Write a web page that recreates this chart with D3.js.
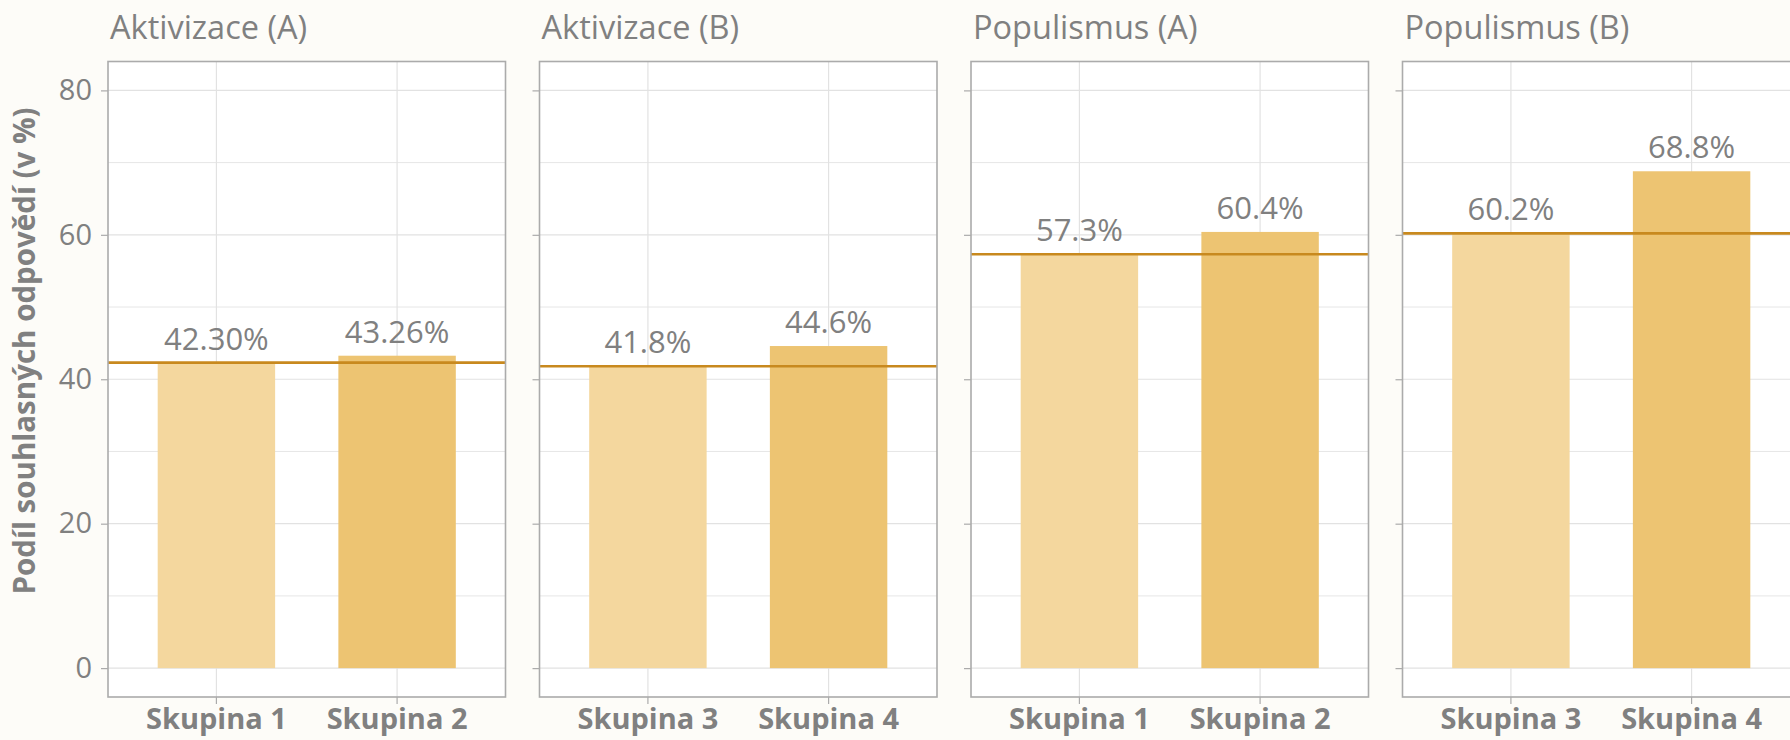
<!DOCTYPE html>
<meta charset="utf-8">
<head>
    <style>
     body { margin: 0; background: #fdfcf8; }
     svg { display: block; }
     text { font-family: "Open Sans", "Noto Sans", sans-serif; fill: #808080; }
    </style>
</head>
<body>
</body>
<script src="https://d3js.org/d3.v7.min.js"></script>
<script>
 // data
 const panelTitles = ["Aktivizace (A)", "Aktivizace (B)", "Populismus (A)", "Populismus (B)"];
 const groupNames = [["Skupina 1", "Skupina 2"], ["Skupina 3", "Skupina 4"],
                     ["Skupina 1", "Skupina 2"], ["Skupina 3", "Skupina 4"]];
 const shares = [[42.30, 43.26], [41.8, 44.6], [57.3, 60.4], [60.2, 68.8]];
 const shareLabels = [["42.30%", "43.26%"], ["41.8%", "44.6%"], ["57.3%", "60.4%"], ["60.2%", "68.8%"]];
 const baselines = [42.30, 41.8, 57.3, 60.2];
 const yTicks = [0, 20, 40, 60, 80];
 const yMinor = [10, 30, 50, 70];
 const barColors = ["#f4d79e", "#edc472"];

 var width = 1790,
     height = 740;

 var left = 108, panelW = 397.5, gap = 34,
     panelTop = 61.5, panelBottom = 697;

 var svg = d3.select("body").append("svg")
             .attr("width", width)
             .attr("height", height);

 svg.append("rect").attr("width", width).attr("height", height).attr("fill", "#fdfcf8");

 // ggplot style limits 0..80 with 5% expansion
 var y = d3.scaleLinear().domain([-4, 84]).range([panelBottom, panelTop]);

 panelTitles.forEach(function(title, i) {
     var x0 = left + i * (panelW + gap);
     var g = svg.append("g").attr("transform", `translate(${x0},0)`);

     var x = d3.scaleBand()
               .domain(groupNames[i])
               .range([0, panelW])
               .paddingInner(0)
               .paddingOuter(0.1);
     var barW = x.step() * 0.65;

     g.append("rect")
      .attr("x", 0).attr("y", panelTop)
      .attr("width", panelW).attr("height", panelBottom - panelTop)
      .attr("fill", "#fff");

     // grid
     g.selectAll("line.minor")
      .data(yMinor)
      .join("line")
      .attr("class", "minor")
      .attr("x1", 0).attr("x2", panelW)
      .attr("y1", d => y(d)).attr("y2", d => y(d))
      .attr("stroke", "#e6e6e6").attr("stroke-width", 1);
     g.selectAll("line.major")
      .data(yTicks)
      .join("line")
      .attr("class", "major")
      .attr("x1", 0).attr("x2", panelW)
      .attr("y1", d => y(d)).attr("y2", d => y(d))
      .attr("stroke", "#e2e2e2").attr("stroke-width", 1.2);
     g.selectAll("line.vgrid")
      .data(groupNames[i])
      .join("line")
      .attr("class", "vgrid")
      .attr("x1", d => x(d) + x.bandwidth() / 2).attr("x2", d => x(d) + x.bandwidth() / 2)
      .attr("y1", panelTop).attr("y2", panelBottom)
      .attr("stroke", "#e2e2e2").attr("stroke-width", 1.2);

     // bars
     g.selectAll("rect.bar")
      .data(shares[i])
      .join("rect")
      .attr("class", "bar")
      .attr("x", (d, j) => x(groupNames[i][j]) + (x.bandwidth() - barW) / 2)
      .attr("width", barW)
      .attr("y", d => y(d))
      .attr("height", d => y(0) - y(d))
      .attr("fill", (d, j) => barColors[j]);

     // reference line at first group's share
     g.append("line")
      .attr("x1", 0).attr("x2", panelW)
      .attr("y1", y(baselines[i])).attr("y2", y(baselines[i]))
      .attr("stroke", "#c8891e").attr("stroke-width", 2.6);

     // value labels
     g.selectAll("text.val")
      .data(shares[i])
      .join("text")
      .attr("class", "val")
      .attr("x", (d, j) => x(groupNames[i][j]) + x.bandwidth() / 2)
      .attr("y", d => y(d) - 13)
      .attr("text-anchor", "middle")
      .style("font-size", "31px")
      .text((d, j) => shareLabels[i][j]);

     // frame
     g.append("rect")
      .attr("x", 0).attr("y", panelTop)
      .attr("width", panelW).attr("height", panelBottom - panelTop)
      .attr("fill", "none")
      .attr("stroke", "#ababab").attr("stroke-width", 1.6);

     // y ticks (every panel), labels only in the first
     var yAxis = g.append("g")
                  .call(d3.axisLeft(y).tickValues(yTicks).tickSize(7).tickFormat(i === 0 ? d3.format("d") : ""));
     yAxis.select(".domain").remove();
     yAxis.selectAll(".tick line").attr("stroke", "#ababab").attr("stroke-width", 1.2);
     yAxis.selectAll(".tick text")
          .attr("x", -16)
          .style("font-size", "29px")
          .attr("font-family", null)
          .attr("fill", null);

     // x axis
     var xAxis = g.append("g")
                  .attr("transform", `translate(0,${panelBottom})`)
                  .call(d3.axisBottom(x).tickSize(7).tickPadding(6));
     xAxis.select(".domain").remove();
     xAxis.selectAll(".tick line").attr("stroke", "#ababab").attr("stroke-width", 1.2);
     xAxis.selectAll(".tick text")
          .attr("dy", null)
          .attr("y", 32)
          .style("font-size", "29px")
          .style("font-weight", "bold")
          .attr("font-family", null)
          .attr("fill", null);

     // strip title
     g.append("text")
      .attr("x", 2)
      .attr("y", 39)
      .style("font-size", "32.5px")
      .text(title);
 });

 // y axis title
 svg.append("text")
    .attr("transform", "translate(35,351) rotate(-90)")
    .attr("text-anchor", "middle")
    .style("font-size", "29.5px")
    .style("font-weight", "bold")
    .text("Podíl souhlasných odpovědí (v %)");
</script>
